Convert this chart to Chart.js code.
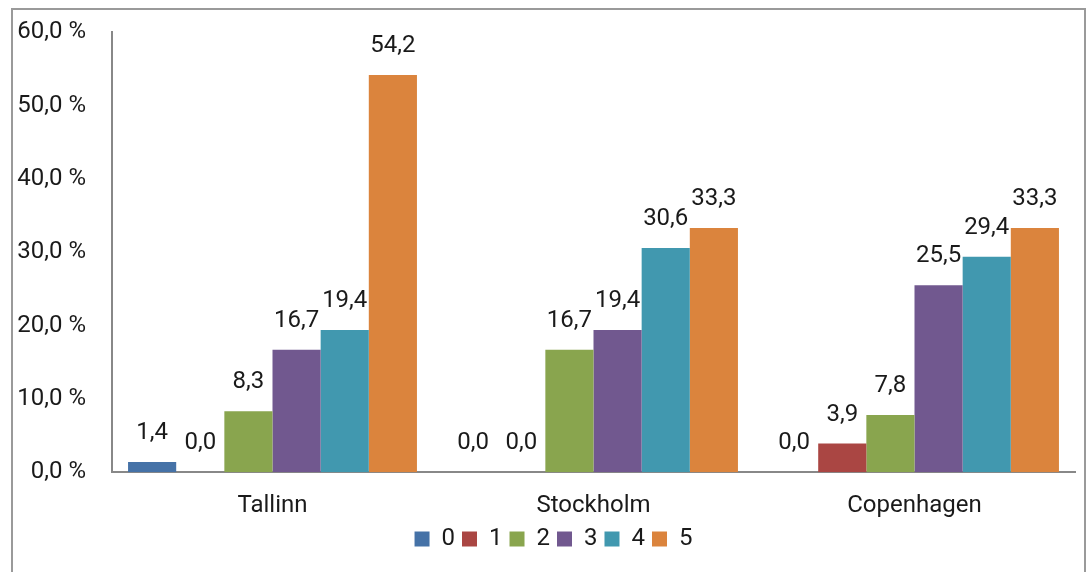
<!DOCTYPE html>
<html>
<head>
<meta charset="utf-8">
<script src="https://cdn.jsdelivr.net/npm/chart.js@4/dist/chart.umd.min.js"></script>
<style>
  html, body { margin: 0; padding: 0; background: #fff; }
  #wrap { width: 1087px; height: 572px; }
</style>
</head>
<body>
<div id="wrap"><canvas id="scoreChart" width="1087" height="572"></canvas></div>
<script>
// Share of answers per score (0-5), by city
const cities = ['Tallinn', 'Stockholm', 'Copenhagen'];
const scoreLabels = ['0', '1', '2', '3', '4', '5'];
const score0 = [1.4, 0.0, 0.0];
const score1 = [0.0, 0.0, 3.9];
const score2 = [8.3, 16.7, 7.8];
const score3 = [16.7, 19.4, 25.5];
const score4 = [19.4, 30.6, 29.4];
const score5 = [54.2, 33.3, 33.3];
const yTicks = [0, 10, 20, 30, 40, 50, 60];

const colors = ['#4572A7', '#AA4643', '#89A54E', '#71588F', '#4198AF', '#DB843D'];
const seriesValues = [score0, score1, score2, score3, score4, score5];

const FONT = 'Roboto, sans-serif';
const FONT_SIZE = 24;
const comma = (v) => v.toFixed(1).replace('.', ',');

// Writes the value above each bar
const valueLabels = {
    id: 'valueLabels',
    afterDatasetsDraw(chart) {
        const ctx = chart.ctx;
        ctx.save();
        ctx.font = FONT_SIZE + 'px ' + FONT;
        ctx.fillStyle = '#1a1a1a';
        ctx.textAlign = 'center';
        ctx.textBaseline = 'middle';
        chart.data.datasets.forEach((ds, i) => {
            const meta = chart.getDatasetMeta(i);
            meta.data.forEach((bar, j) => {
                ctx.fillText(comma(ds.data[j]), bar.x, bar.y - 29);
            });
        });
        ctx.restore();
    }
};

// Grey frame round the chart
const frame = {
    id: 'frame',
    afterDraw(chart) {
        const ctx = chart.ctx;
        ctx.save();
        ctx.strokeStyle = '#9a9a9a';
        ctx.lineWidth = 2;
        ctx.strokeRect(12, 9, 1073, 600);
        ctx.restore();
    }
};

// Nudge the legend to the right so it sits under the plot
const legendShift = {
    id: 'legendShift',
    afterLayout(chart) {
        if (chart.legend) {
            chart.legend.left += 16;
            chart.legend.right += 16;
        }
    }
};

const ctx = document.getElementById('scoreChart').getContext('2d');
new Chart(ctx, {
    type: 'bar',
    data: {
        labels: cities,
        datasets: seriesValues.map((vals, i) => ({
            label: scoreLabels[i],
            data: vals,
            backgroundColor: colors[i],
            borderWidth: 0,
            categoryPercentage: 0.9,
            barPercentage: 1.0
        }))
    },
    options: {
        responsive: false,
        animation: false,
        layout: { padding: { top: 29, right: 12, bottom: 11, left: 0 } },
        plugins: {
            tooltip: { enabled: false },
            legend: {
                position: 'bottom',
                labels: {
                    boxWidth: 15,
                    boxHeight: 15,
                    padding: 7,
                    color: '#1a1a1a',
                    font: { family: FONT, size: FONT_SIZE, lineHeight: 1 }
                }
            }
        },
        scales: {
            x: {
                afterFit(scale) { scale.height -= 11; },
                grid: { display: false },
                border: { display: true, color: '#888', width: 2 },
                ticks: { color: '#1a1a1a', padding: 11, font: { family: FONT, size: FONT_SIZE } }
            },
            y: {
                min: 0,
                max: 60,
                afterFit(scale) { scale.width = 112; },
                afterBuildTicks(scale) { scale.ticks = yTicks.map(v => ({ value: v })); },
                grid: { display: false },
                border: { display: true, color: '#888', width: 2 },
                ticks: {
                    color: '#1a1a1a',
                    padding: 18,
                    font: { family: FONT, size: FONT_SIZE },
                    callback: (v) => comma(v) + ' %'
                }
            }
        }
    },
    plugins: [valueLabels, frame, legendShift]
});
</script>
</body>
</html>
